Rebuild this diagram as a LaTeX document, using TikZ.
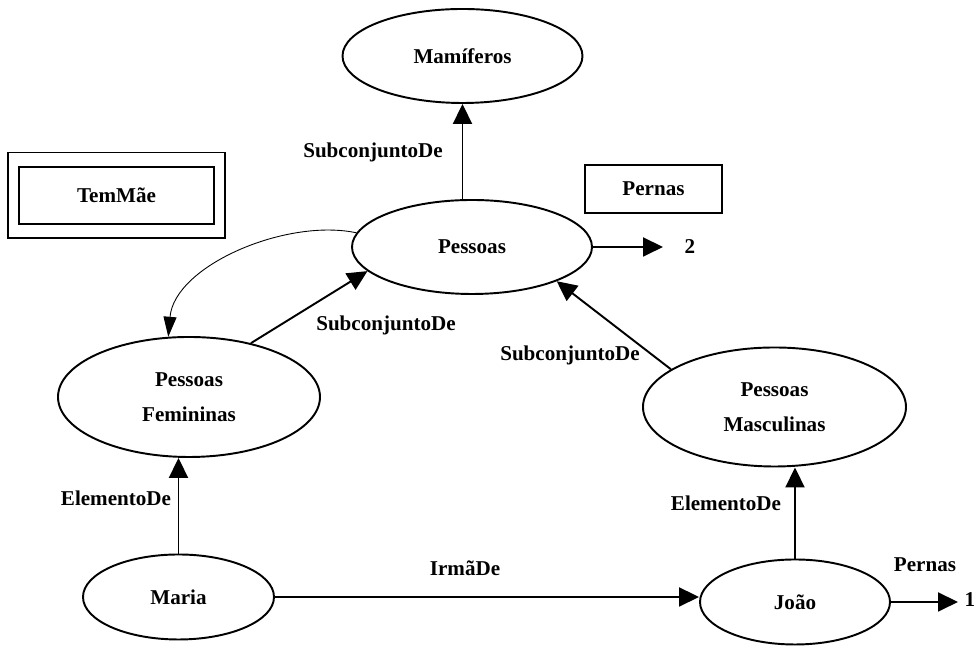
\documentclass[tikz,border=0pt]{standalone}
\usepackage{fontspec}
\setmainfont{Liberation Serif}
\usepackage{tikz}
\usetikzlibrary{shapes,arrows.meta,positioning,fit}

\begin{document}
\begin{tikzpicture}[
    every node/.style={font=\fontsize{12}{20}\selectfont\bfseries},
    concept/.style={
        ellipse,
        draw,
        line width=1.1pt,
        inner sep=0pt,
        align=center
    },
    slot/.style={rectangle, draw, line width=1.1pt, inner sep=0pt},
    arrow/.style={-{Triangle[length=4mm,width=3.8mm]}, line width=1.1pt},
    thinarrow/.style={-{Triangle[length=4mm,width=2.6mm]}, line width=0.5pt},
    edgelabel/.style={inner sep=0pt}
]
\useasboundingbox (0,0) rectangle (19.56,13);

% Nodes
\node[concept, minimum width=4.8cm, minimum height=1.88cm] (mamiferos) at (9.25, 11.88) {Mamíferos};
\node[concept, minimum width=4.8cm, minimum height=1.88cm] (pessoas) at (9.44, 8.06) {Pessoas};
\node[concept, minimum width=5.24cm, minimum height=2.4cm] (femininas) at (3.78, 5.06) {Pessoas\\Femininas};
\node[concept, minimum width=5.26cm, minimum height=2.38cm] (masculinas) at (15.49, 4.86) {Pessoas\\Masculinas};
\node[concept, minimum width=3.82cm, minimum height=1.7cm] (maria) at (3.57, 1.06) {Maria};
\node[concept, minimum width=3.8cm, minimum height=1.7cm] (joao) at (15.9, 0.96) {João};

% Slots
\node[slot, minimum width=3.9cm, minimum height=1.14cm] (temmae) at (2.33, 9.09) {TemMãe};
\node[slot, fit=(temmae), inner xsep=0.2cm, inner ysep=0.27cm] (temmaeframe) {};
\node[slot, minimum width=2.74cm, minimum height=0.96cm] (pernas) at (13.07, 9.22) {Pernas};

% Labels
\node[edgelabel] (subtop) at (7.46, 9.96) {SubconjuntoDe};
\node[edgelabel] (submid) at (7.72, 6.5) {SubconjuntoDe};
\node[edgelabel] (subright) at (11.4, 5.9) {SubconjuntoDe};
\node[edgelabel] (elemleft) at (2.32, 3.04) {ElementoDe};
\node[edgelabel] (elemright) at (14.52, 2.94) {ElementoDe};
\node[edgelabel] (irma) at (9.3, 1.64) {IrmãDe};
\node[edgelabel] (pernasjoao) at (18.5, 1.7) {Pernas};
\node[edgelabel] (two) at (13.8, 8.06) {2};
\node[edgelabel] (one) at (19.4, 1.0) {1};
\coordinate (twotip) at (13.26, 8.06);
\coordinate (onetip) at (19.16, 0.96);

% Arrows
\draw[arrow] (mamiferos.south |- pessoas.north) -- (mamiferos.south);
\draw[arrow] (femininas.41) -- (pessoas.193);
\draw[arrow] (masculinas.160) -- (pessoas.338);
\draw[arrow] (maria.north) -- (maria.north |- femininas.south);
\draw[arrow] (joao.north) -- (joao.north |- masculinas.south);
\draw[arrow] (maria.east) -- (maria.east -| joao.west);
\draw[arrow] (pessoas.east) -- (twotip);
\draw[arrow] (joao.east) -- (onetip);

% Curved link
\draw[thinarrow] (pessoas.173) to[out=168, in=85, looseness=0.85] (femininas.109);

\end{tikzpicture}
\end{document}
